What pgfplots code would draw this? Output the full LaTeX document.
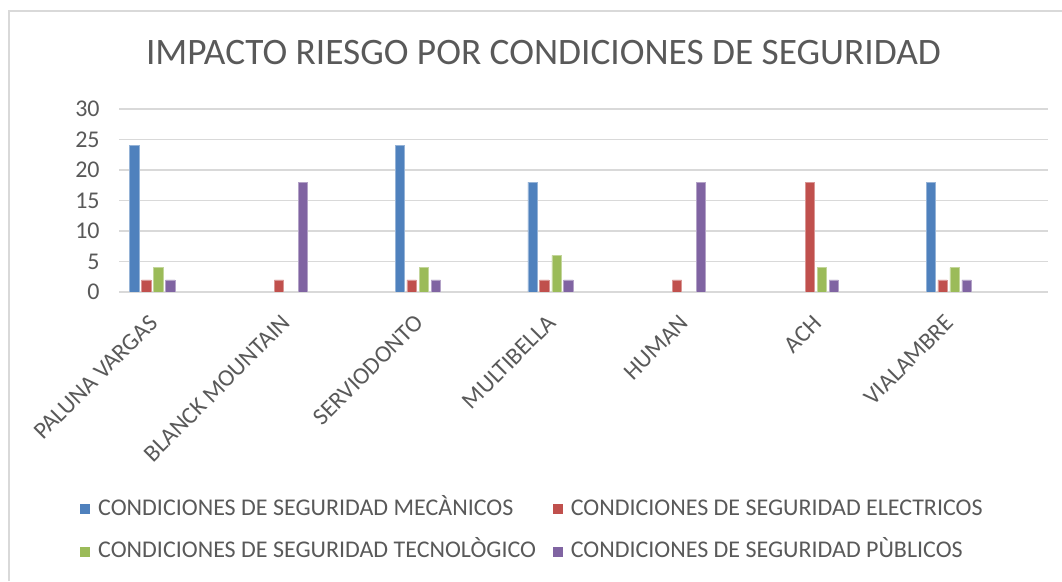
\documentclass[border=0pt]{standalone}
\usepackage{pgfplots}
\pgfplotsset{compat=1.18}
\usepackage{fontspec}
\setmainfont{Carlito}

\definecolor{txt}{HTML}{595959}
\definecolor{grd}{HTML}{D9D9D9}
\definecolor{sBlue}{HTML}{4F81BD}
\definecolor{sRed}{HTML}{C0504D}
\definecolor{sGreen}{HTML}{9BBB59}
\definecolor{sPurple}{HTML}{8064A2}

\begin{document}
\begin{tikzpicture}
% canvas, 1 px = 0.75pt
\path[use as bounding box] (0,0) rectangle (796.5pt,435.75pt);
\draw[grd, line width=1pt] (6.75pt,0pt) -- (6.75pt,427.5pt) -- (796.5pt,427.5pt);

\node[anchor=base, text=txt, font=\fontsize{28}{32}\selectfont] at (407.6pt,387pt)
  {IMPACTO RIESGO POR CONDICIONES DE SEGURIDAD};

\begin{axis}[
    at={(89.25pt,216.75pt)}, anchor=south west,
    scale only axis,
    width=696.75pt, height=137.25pt,
    ymin=0, ymax=30,
    xmin=-0.5, xmax=6.5,
    ytick={0,5,...,30},
    xtick={0,...,6},
    xticklabels={PALUNA VARGAS, BLANCK MOUNTAIN, SERVIODONTO, MULTIBELLA, HUMAN, ACH, VIALAMBRE},
    xticklabel style={xshift=-28pt, yshift=-16pt, rotate=45, anchor=north east,
        inner sep=0pt, text=txt, font=\fontsize{18}{21}\selectfont},
    yticklabel style={text=txt, font=\fontsize{18}{21}\selectfont, xshift=-11pt},
    /pgf/number format/assume math mode=true,
    major tick length=0pt,
    axis line style={draw=none},
    ymajorgrids,
    grid style={grd, line width=1.1pt},
    ybar, bar width=0.070,
    legend columns=2,
    legend style={at={(axis description cs:-0.042,-1.109)}, anchor=north west,
        draw=none, fill=none, inner sep=0pt,
        font=\fontsize{18}{21}\selectfont, text=txt,
        nodes={text height=13pt, text depth=4pt},
        /tikz/every odd column/.append style={column sep=4pt},
        /tikz/every even column/.append style={column sep=10.5pt},
        row sep=11pt},
    legend cell align=left,
    legend image code/.code={\fill[#1,draw=none] (0pt,-3.75pt) rectangle (7.5pt,3.75pt);},
]
\addplot[fill=sBlue, draw=sBlue!60!white, line width=0.4pt, bar shift=-0.384] coordinates {
    (0,24) (2,24) (3,18) (6,18)
};
\addlegendentry{CONDICIONES DE SEGURIDAD MECÀNICOS}
\addplot[fill=sRed, draw=sRed!60!white, line width=0.4pt, bar shift=-0.295] coordinates {
    (0,2) (1,2) (2,2) (3,2) (4,2) (5,18) (6,2)
};
\addlegendentry{CONDICIONES DE SEGURIDAD ELECTRICOS}
\addplot[fill=sGreen, draw=sGreen!60!white, line width=0.4pt, bar shift=-0.204] coordinates {
    (0,4) (2,4) (3,6) (5,4) (6,4)
};
\addlegendentry{CONDICIONES DE SEGURIDAD TECNOLÒGICO}
\addplot[fill=sPurple, draw=sPurple!60!white, line width=0.4pt, bar shift=-0.114] coordinates {
    (0,2) (1,18) (2,2) (3,2) (4,18) (5,2) (6,2)
};
\addlegendentry{CONDICIONES DE SEGURIDAD PÙBLICOS}
\end{axis}
\end{tikzpicture}
\end{document}
